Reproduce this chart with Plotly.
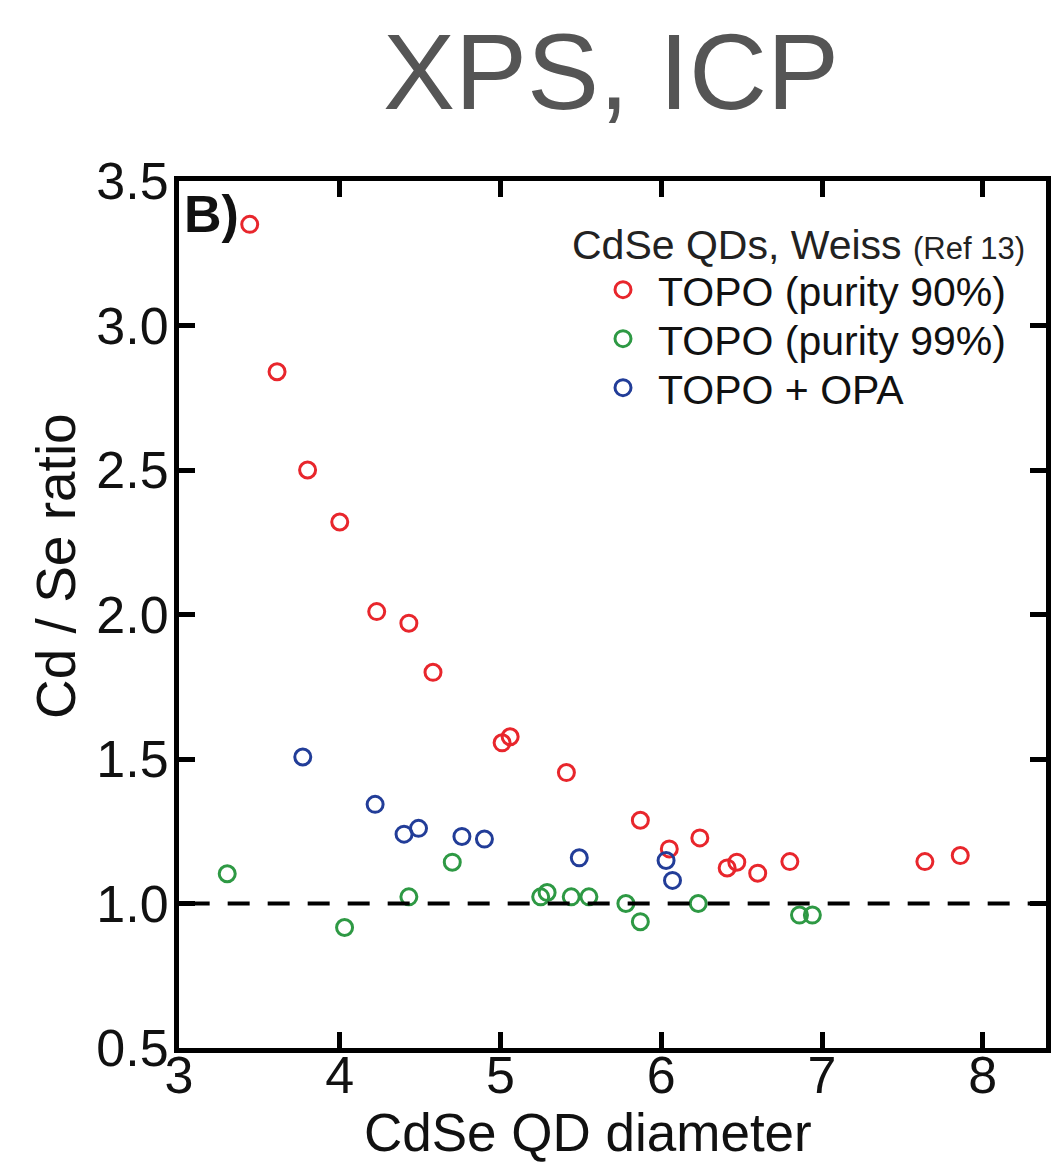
import plotly.graph_objects as go

# ---- data ----
red_x = [3.44, 3.61, 3.80, 4.00, 4.23, 4.43, 4.58, 5.01, 5.06, 5.41, 5.87, 6.05, 6.24, 6.41, 6.47, 6.60, 6.80, 7.64, 7.86]
red_y = [3.35, 2.84, 2.50, 2.32, 2.01, 1.97, 1.80, 1.556, 1.577, 1.453, 1.288, 1.189, 1.227, 1.123, 1.143, 1.105, 1.145, 1.145, 1.166]

green_x = [3.30, 4.03, 4.43, 4.70, 5.25, 5.29, 5.44, 5.55, 5.78, 5.87, 6.23, 6.86, 6.94]
green_y = [1.103, 0.917, 1.023, 1.143, 1.023, 1.038, 1.023, 1.023, 1.000, 0.937, 1.000, 0.960, 0.960]

blue_x = [3.77, 4.22, 4.40, 4.49, 4.76, 4.90, 5.49, 6.03, 6.07]
blue_y = [1.507, 1.343, 1.240, 1.260, 1.232, 1.223, 1.158, 1.149, 1.080]

series_names = ["TOPO (purity 90%)", "TOPO (purity 99%)", "TOPO + OPA"]
x_ticks = [3, 4, 5, 6, 7, 8]
y_ticks = [0.5, 1.0, 1.5, 2.0, 2.5, 3.0, 3.5]
ref_line = 1.0

RED, GREEN, BLUE = "#e8262c", "#2e9944", "#223d98"
FONT = "Liberation Sans, Arial, sans-serif"

OFF = 8  # default page body margin
W, H = 1044, 1157
L, R, T, B = 171, 6, 173, 117
PW, PH = W - L - R, H - T - B
X_MAX = 3 + PW / 160.75


def px(page_x):
    return (page_x - OFF - L) / PW


def py(page_y):
    return (H - B - (page_y - OFF)) / PH


fig = go.Figure()
legends = ["legend", "legend2", "legend3"]
for xs, ys, c, n, lg in [(red_x, red_y, RED, series_names[0], legends[0]),
                         (green_x, green_y, GREEN, series_names[1], legends[1]),
                         (blue_x, blue_y, BLUE, series_names[2], legends[2])]:
    fig.add_trace(go.Scatter(
        x=xs, y=ys, mode="markers", name=n, legend=lg,
        marker=dict(symbol="circle-open", size=16, color=c, line=dict(width=3, color=c)),
    ))

fig.add_shape(type="line", xref="paper", yref="y", x0=0.01, x1=1, y0=ref_line, y1=ref_line,
              line=dict(color="black", width=4, dash="22px,18px"))

ann = []
ann.append(dict(text="XPS, ICP", x=px(611), y=py(OFF + 1), xref="paper", yref="paper",
                showarrow=False, xanchor="center", yanchor="top",
                font=dict(family=FONT, size=108, color="#555555")))
ann.append(dict(text="Cd / Se ratio", x=px(56), y=py(566), xref="paper", yref="paper",
                showarrow=False, xanchor="center", yanchor="middle", textangle=-90,
                font=dict(family=FONT, size=55, color="#111111")))
ann.append(dict(text="CdSe QD diameter", x=px(588), y=py(OFF + H - 1), xref="paper", yref="paper",
                showarrow=False, xanchor="center", yanchor="bottom",
                font=dict(family=FONT, size=53, color="#111111")))
ann.append(dict(text="<b>B)</b>", x=px(182), y=py(214), xref="paper", yref="paper",
                showarrow=False, xanchor="left", yanchor="middle",
                font=dict(family=FONT, size=52, color="#111111")))
ann.append(dict(text="CdSe QDs, Weiss <span style='font-size:31px'>(Ref 13)</span>",
                x=px(570), y=py(245), xref="paper", yref="paper",
                showarrow=False, xanchor="left", yanchor="middle",
                font=dict(family=FONT, size=41, color="#222222")))

axis_common = dict(showline=True, linecolor="black", linewidth=5, mirror="allticks",
                   ticks="inside", ticklen=16, tickwidth=5, tickcolor="black",
                   showgrid=False, zeroline=False,
                   tickfont=dict(family=FONT, size=52, color="#111111"))

leg_common = dict(xanchor="left", yanchor="middle", itemwidth=60,
                  font=dict(family=FONT, size=41, color="#111111"),
                  bgcolor="rgba(0,0,0,0)", borderwidth=0)
row_centers = [290, 339, 388]

fig.update_layout(
    width=W, height=H,
    margin=dict(l=L, r=R, t=T, b=B, autoexpand=False),
    paper_bgcolor="white", plot_bgcolor="white",
    xaxis=dict(range=[3, X_MAX], tickvals=x_ticks, ticktext=[str(v) for v in x_ticks],
               ticklabelstandoff=-22, **axis_common),
    yaxis=dict(range=[0.5, 3.5], tickvals=y_ticks, ticktext=[f"{v:.1f}" for v in y_ticks],
               ticklabelstandoff=-5, **axis_common),
    showlegend=True,
    legend=dict(x=px(588), y=py(row_centers[0]), **leg_common),
    legend2=dict(x=px(588), y=py(row_centers[1]), **leg_common),
    legend3=dict(x=px(588), y=py(row_centers[2]), **leg_common),
    annotations=ann,
)

fig.write_html("out.html")
